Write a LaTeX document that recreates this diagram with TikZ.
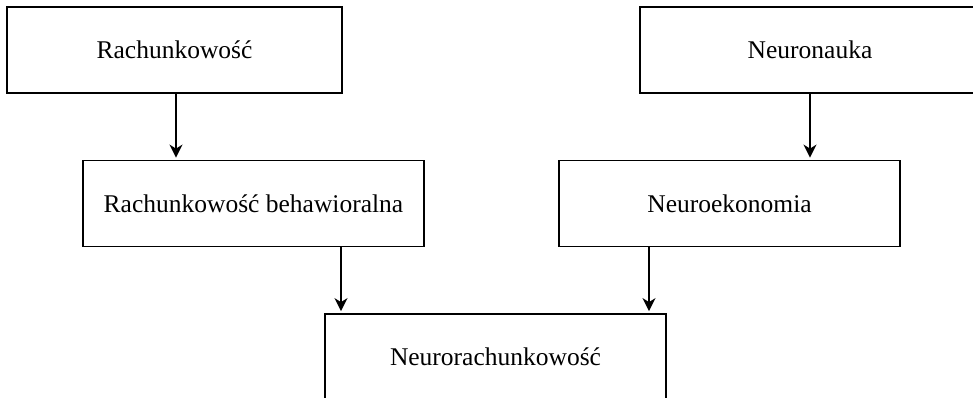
\documentclass[tikz,border=0pt]{standalone}
\usepackage{fontspec}
\setmainfont{Liberation Serif}
\usetikzlibrary{arrows.meta,calc}
\begin{document}
\begin{tikzpicture}[x=1pt,y=-1pt,
  box/.style={draw, line width=1.8pt, minimum height=86pt, inner sep=0pt, font=\fontsize{25.5}{30}\selectfont, anchor=center},
  arr/.style={line width=1.8pt, -{Stealth[length=13pt,width=13pt,inset=4pt]}, shorten >=2pt}]
\useasboundingbox (0,0) rectangle (973,398);
\clip (0,0) rectangle (973,398);
\node[box, minimum width=335pt] (b1) at (174.5,50) {Rachunkowość};
\node[box, minimum width=340pt] (b2) at (810,50) {Neuronauka};
\node[box, minimum width=341pt] (b3) at (253.5,203.5) {Rachunkowość behawioralna};
\node[box, minimum width=341pt] (b4) at (729.5,203.5) {Neuroekonomia};
\node[box, minimum width=341pt] (b5) at (495.5,357) {Neurorachunkowość};
\coordinate (a1) at ($(b1.south)+(1.5,0)$);
\coordinate (a3) at ($(b5.north)+(-154.5,0)$);
\coordinate (a4) at ($(b5.north)+(153.5,0)$);
\draw[arr] (a1) -- (a1 |- b3.north);
\draw[arr] (b2.south) -- (b2.south |- b4.north);
\draw[arr] (a3 |- b3.south) -- (a3);
\draw[arr] (a4 |- b4.south) -- (a4);
\end{tikzpicture}
\end{document}
